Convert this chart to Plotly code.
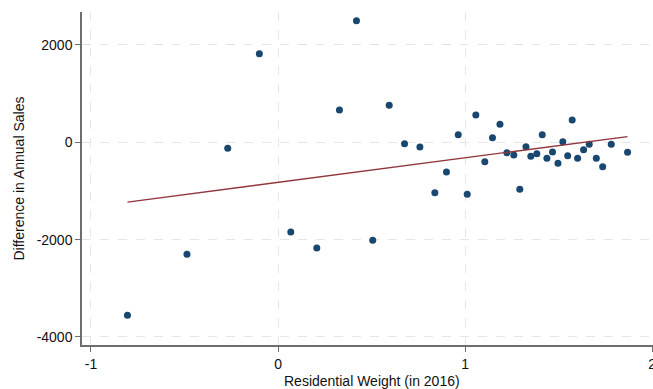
import numpy as np
import plotly.graph_objects as go

# Residential weight (x) and difference in annual sales (y)
res_weight = [-0.805, -0.487, -0.269, -0.100, 0.068, 0.207, 0.328, 0.419, 0.506, 0.594,
              0.676, 0.758, 0.838, 0.900, 0.963, 1.011, 1.057, 1.105, 1.146, 1.186,
              1.223, 1.260, 1.292, 1.325, 1.351, 1.383, 1.412, 1.437, 1.467, 1.496,
              1.522, 1.548, 1.572, 1.601, 1.633, 1.663, 1.701, 1.735, 1.781, 1.868]
sales_diff = [-3556, -2302, -123, 1821, -1844, -2173, 664, 2500, -2015, 760,
              -29, -97, -1036, -610, 157, -1069, 561, -398, 95, 370,
              -214, -261, -966, -90, -288, -234, 157, -329, -199, -432,
              12, -275, 458, -329, -152, -41, -329, -501, -41, -206]

x_ticks = [-1, 0, 1, 2]
y_ticks = [-4000, -2000, 0, 2000]

# Linear fit line
slope, intercept = np.polyfit(res_weight, sales_diff, 1)
fit_x = np.array([min(res_weight), max(res_weight)])
fit_y = intercept + slope * fit_x

fig = go.Figure()
fig.add_trace(go.Scatter(x=res_weight, y=sales_diff, mode="markers",
                         marker=dict(color="#1a476f", size=7), showlegend=False))
fig.add_trace(go.Scatter(x=fit_x, y=fit_y, mode="lines",
                         line=dict(color="#90353b", width=1.3), showlegend=False))

font = "Liberation Sans, Arial, sans-serif"
fig.update_layout(
    width=653, height=389,
    margin=dict(l=82, r=0, t=12, b=44, autoexpand=False),
    paper_bgcolor="white", plot_bgcolor="white",
    font=dict(family=font, size=14, color="#111"),
    xaxis=dict(range=[-1.048, 2.004], tickvals=x_ticks, ticktext=[str(v) for v in x_ticks],
               showgrid=True, gridcolor="#e6e6e6", griddash="dash", gridwidth=1,
               zeroline=False, showline=True, linecolor="#6e6e6e", linewidth=1.5,
               ticks="outside", ticklen=5, tickcolor="#6e6e6e", automargin=False,
               ticklabeloverflow="allow"),
    yaxis=dict(range=[-4166, 2678], tickvals=y_ticks, ticktext=[str(v) for v in y_ticks],
               showgrid=True, gridcolor="#e6e6e6", griddash="dash", gridwidth=1,
               zeroline=False, showline=True, linecolor="#6e6e6e", linewidth=1.5,
               ticks="outside", ticklen=5, tickcolor="#6e6e6e", automargin=False),
    annotations=[
        dict(text="Residential Weight (in 2016)", xref="paper", yref="paper",
             x=0.508, y=-0.108, xanchor="center", yanchor="middle", showarrow=False,
             font=dict(size=14, color="#111")),
        dict(text="Difference in Annual Sales", xref="paper", yref="paper",
             x=-0.112, y=0.5, xanchor="center", yanchor="middle", showarrow=False,
             textangle=-90, font=dict(size=14, color="#111")),
    ],
)
fig.write_html("out.html", config={"displayModeBar": False},
               post_script="document.body.style.margin='0';")
